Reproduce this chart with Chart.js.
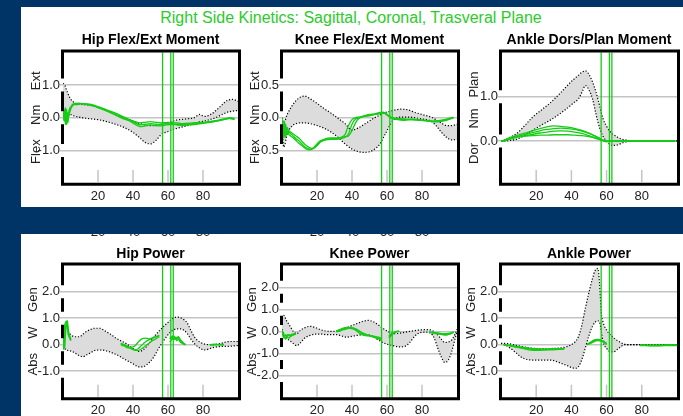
<!DOCTYPE html>
<html>
<head>
<meta charset="utf-8">
<script src="https://cdn.jsdelivr.net/npm/chart.js@4.4.1/dist/chart.umd.min.js"></script>
<style>
  html, body { margin: 0; padding: 0; }
  body { width: 683px; height: 416px; background: #003366; position: relative; overflow: hidden;
         font-family: 'Liberation Sans', Arial, sans-serif; }
  .sheet { position: absolute; left: 21px; width: 662px; background: #fff; }
  #sheetTop { top: 7px; height: 200px; }
  #sheetBottom { top: 234px; height: 182px; overflow: hidden; }
  #mainTitle { position: absolute; left: 101px; width: 500px; top: 8px; line-height: 20px;
               text-align: center; font-size: 16px; color: #2ccb2c; white-space: nowrap; }
  canvas { position: absolute; }
  .ghost { position: absolute; top: -10px; font-size: 13px; line-height: 16px; color: #222;
           transform: translateX(-50%); }
</style>
</head>
<body>
<div class="sheet" id="sheetTop"></div>
<div class="sheet" id="sheetBottom"></div>
<div id="mainTitle">Right Side Kinetics: Sagittal, Coronal, Trasveral Plane</div>
<script>
// ---- gait-cycle axis ----
const xTicks = [20, 40, 60, 80];
const toeOff = [56.9, 61.6, 63.0];

// ---- Hip flexion/extension moment (Nm) ----
const hipMomBandX = [0, 1, 2, 4, 6, 8, 10, 15, 20, 25, 30, 35, 40, 44, 47, 50, 53, 56, 60, 65, 70, 75, 78, 81, 85, 88, 91, 94, 97, 100];
const hipMomUpper = [1.05, 1.0, 0.85, 0.6, 0.48, 0.43, 0.41, 0.38, 0.32, 0.22, 0.1, 0.0, -0.1, -0.18, -0.22, -0.24, -0.24, -0.2, -0.14, -0.07, -0.04, 0.0, 0.1, 0.04, 0.12, 0.25, 0.4, 0.53, 0.56, 0.5];
const hipMomLower = [0.0, 0.0, 0.08, 0.1, 0.06, 0.03, 0.01, -0.03, -0.06, -0.12, -0.2, -0.3, -0.45, -0.62, -0.76, -0.8, -0.7, -0.52, -0.42, -0.33, -0.26, -0.18, -0.13, -0.1, -0.04, 0.02, 0.1, 0.17, 0.2, 0.22];
const hipMomTrialX = [0, 0.7, 1.4, 2, 2.7, 3.4, 4, 5, 6, 8, 10, 14, 18, 22, 26, 30, 34, 38, 41, 44, 47, 50, 53, 56, 59, 62, 65, 68, 72, 76, 80, 84, 88, 92, 95, 98];
const hipMomTrial1 = [0.0, 0.25, -0.2, 0.1, -0.1, 0.2, 0.3, 0.35, 0.4, 0.42, 0.43, 0.42, 0.38, 0.3, 0.22, 0.14, 0.04, -0.06, -0.12, -0.16, -0.14, -0.12, -0.14, -0.16, -0.15, -0.18, -0.2, -0.2, -0.2, -0.18, -0.16, -0.14, -0.1, -0.06, -0.02, -0.04];
const hipMomTrial2 = [0.05, -0.1, 0.3, -0.2, 0.15, 0.05, 0.25, 0.38, 0.42, 0.44, 0.44, 0.41, 0.36, 0.28, 0.2, 0.1, 0.0, -0.08, -0.16, -0.22, -0.2, -0.18, -0.2, -0.2, -0.18, -0.15, -0.16, -0.18, -0.17, -0.15, -0.14, -0.11, -0.08, -0.04, 0.0, -0.02];
const hipMomTrial3 = [-0.05, 0.15, 0.0, 0.25, -0.15, 0.1, 0.2, 0.33, 0.4, 0.4, 0.42, 0.4, 0.35, 0.27, 0.18, 0.08, -0.02, -0.1, -0.2, -0.27, -0.25, -0.22, -0.24, -0.25, -0.22, -0.2, -0.22, -0.24, -0.22, -0.2, -0.17, -0.13, -0.1, -0.05, -0.02, -0.05];

// ---- Knee flexion/extension moment (Nm) ----
const kneeMomBandX = [0, 1, 3, 5, 8, 11, 13, 16, 20, 24, 28, 32, 36, 40, 44, 47, 50, 53, 56, 59, 62, 65, 68, 72, 76, 80, 85, 88, 91, 94, 97, 100];
const kneeMomUpper = [0.0, -0.08, 0.05, 0.15, 0.26, 0.32, 0.33, 0.29, 0.22, 0.14, 0.07, -0.01, -0.09, -0.19, -0.15, -0.1, -0.05, 0.0, 0.04, 0.08, 0.1, 0.12, 0.13, 0.12, 0.08, 0.05, 0.01, -0.03, -0.08, -0.12, -0.12, -0.1];
const kneeMomLower = [-0.14, -0.45, -0.25, -0.15, -0.09, -0.08, -0.08, -0.09, -0.12, -0.16, -0.22, -0.3, -0.4, -0.48, -0.52, -0.53, -0.52, -0.48, -0.4, -0.25, -0.1, -0.01, 0.01, 0.01, 0.0, -0.02, -0.05, -0.12, -0.22, -0.3, -0.34, -0.33];
const kneeMomTrialX = [0, 0.6, 1.2, 2, 3, 4, 6, 8, 10, 12, 14, 16, 18, 20, 22, 25, 28, 31, 34, 36, 38, 40, 42, 44, 47, 50, 53, 56, 58, 60, 62, 66, 70, 74, 78, 82, 86, 90, 94, 98];
const kneeMomTrial1 = [-0.05, -0.25, -0.05, -0.3, -0.15, -0.22, -0.27, -0.32, -0.36, -0.42, -0.46, -0.48, -0.46, -0.4, -0.35, -0.33, -0.32, -0.32, -0.3, -0.26, -0.12, -0.03, 0.0, 0.01, 0.03, 0.05, 0.06, 0.08, 0.08, 0.04, 0.0, -0.02, -0.03, -0.02, -0.03, -0.05, -0.06, -0.05, -0.03, 0.0];
const kneeMomTrial2 = [0.0, -0.15, -0.3, -0.1, -0.25, -0.2, -0.24, -0.28, -0.32, -0.38, -0.43, -0.46, -0.47, -0.43, -0.37, -0.34, -0.33, -0.33, -0.32, -0.3, -0.25, -0.1, -0.02, 0.0, 0.02, 0.04, 0.05, 0.07, 0.08, 0.05, 0.01, -0.01, -0.02, -0.03, -0.04, -0.04, -0.05, -0.04, -0.02, 0.01];
const kneeMomTrial3 = [-0.1, -0.3, -0.15, -0.25, -0.2, -0.26, -0.3, -0.35, -0.4, -0.44, -0.48, -0.49, -0.47, -0.42, -0.36, -0.32, -0.31, -0.31, -0.3, -0.29, -0.28, -0.2, -0.08, -0.01, 0.02, 0.03, 0.05, 0.06, 0.07, 0.05, 0.0, -0.03, -0.04, -0.03, -0.03, -0.04, -0.06, -0.06, -0.04, 0.0];

// ---- Ankle dorsi/plantar moment (Nm) ----
const ankMomBandX = [0, 2, 5, 9, 14, 18, 23, 28, 33, 37, 41, 44, 46, 48, 50, 52, 54, 56, 58, 60, 62, 64, 66, 68, 70, 73, 76, 80, 90, 100];
const ankMomUpper = [0.0, 0.02, 0.08, 0.17, 0.37, 0.54, 0.7, 0.86, 1.05, 1.22, 1.38, 1.48, 1.55, 1.58, 1.5, 1.33, 1.1, 0.8, 0.5, 0.33, 0.21, 0.14, 0.09, 0.05, 0.03, 0.01, 0.0, 0.0, 0.0, 0.0];
const ankMomLower = [0.0, 0.0, 0.01, 0.04, 0.14, 0.24, 0.36, 0.47, 0.6, 0.72, 0.85, 0.95, 1.1, 1.25, 1.15, 0.95, 0.6, 0.3, 0.1, 0.0, -0.08, -0.1, -0.09, -0.06, -0.03, 0.0, 0.0, 0.0, 0.0, 0.0];
const ankMomTrialX = [0, 2, 4, 7, 10, 14, 18, 22, 26, 30, 34, 38, 42, 46, 50, 53, 56, 58, 60, 62, 66, 70, 75, 80, 85, 90, 95, 99];
const ankMomTrial1 = [0.0, 0.0, 0.05, 0.1, 0.14, 0.18, 0.23, 0.28, 0.32, 0.34, 0.33, 0.31, 0.28, 0.24, 0.18, 0.12, 0.06, 0.02, 0.0, 0.0, 0.0, 0.0, 0.0, 0.0, 0.0, 0.0, 0.0, 0.0];
const ankMomTrial2 = [0.0, 0.0, 0.04, 0.08, 0.11, 0.15, 0.19, 0.23, 0.26, 0.28, 0.29, 0.28, 0.26, 0.22, 0.17, 0.12, 0.06, 0.02, -0.01, 0.0, 0.0, 0.0, 0.0, 0.0, 0.0, 0.0, 0.0, 0.0];
const ankMomTrial3 = [0.0, 0.01, 0.03, 0.06, 0.09, 0.12, 0.15, 0.18, 0.2, 0.22, 0.23, 0.22, 0.2, 0.17, 0.12, 0.08, 0.04, 0.01, 0.0, 0.0, 0.0, 0.0, 0.0, 0.0, 0.0, 0.0, 0.0, 0.0];
const ankMomTrial4 = [0.0, 0.02, 0.06, 0.09, 0.1, 0.11, 0.12, 0.13, 0.13, 0.14, 0.14, 0.14, 0.13, 0.12, 0.1, 0.07, 0.03, 0.0, -0.02, 0.0, 0.0, 0.0, 0.0, 0.0, 0.0, 0.0, 0.0, 0.0];

// ---- Hip power (W) ----
const hipPowBandX = [0, 1, 2, 3, 5, 7, 9.5, 11.5, 13.5, 16, 18, 21, 24, 27, 30, 33, 36, 39, 42, 44, 46, 48, 50, 52, 55, 58, 61, 63, 65, 67, 69, 71, 73, 75, 78, 81, 85, 90, 95, 100];
const hipPowUpper = [0.35, 0.74, 0.7, 0.5, 0.35, 0.3, 0.3, 0.4, 0.5, 0.58, 0.62, 0.62, 0.52, 0.4, 0.26, 0.15, 0.05, -0.1, -0.22, -0.25, -0.18, -0.05, 0.12, 0.3, 0.52, 0.72, 0.9, 1.0, 1.04, 1.02, 0.95, 0.82, 0.55, 0.3, 0.11, 0.02, 0.0, 0.05, 0.12, 0.12];
const hipPowLower = [-0.05, -0.15, -0.2, -0.22, -0.25, -0.32, -0.42, -0.45, -0.38, -0.3, -0.22, -0.2, -0.22, -0.28, -0.36, -0.46, -0.58, -0.68, -0.8, -0.84, -0.83, -0.75, -0.62, -0.45, -0.1, 0.2, 0.45, 0.55, 0.6, 0.6, 0.55, 0.42, 0.22, 0.05, -0.12, -0.2, -0.12, -0.07, -0.06, -0.03];
const hipPowTrialX = [0, 0.5, 1, 1.5, 2, 2.5, 3, 3.5, 4, 4.5, 5, 33, 35, 37, 39, 41, 43, 45, 47, 49, 51, 53, 55, 58, 61, 62, 63, 64, 65, 66, 67, 68, 69, 70, 75, 84, 86, 88, 90, 92];
const hipPowTrial1 = [-0.2, 0.35, 0.74, 0.85, 0.89, 0.68, 0.37, 0.3, 0.22, 0.15, null, 0.03, -0.02, -0.08, -0.15, -0.2, -0.15, -0.02, 0.1, 0.18, 0.25, 0.3, 0.33, null, 0.22, 0.3, 0.2, 0.3, 0.15, 0.2, 0.1, 0.06, 0.02, 0.0, null, 0.0, 0.02, 0.0, 0.01, 0.0];
const hipPowTrial2 = [0.05, -0.15, 0.4, 0.7, 0.8, 0.75, 0.5, 0.3, 0.25, 0.18, null, 0.0, -0.05, -0.12, -0.1, -0.05, 0.1, 0.22, 0.25, 0.22, 0.25, 0.3, 0.35, null, 0.1, 0.18, 0.25, 0.2, 0.28, 0.25, 0.15, 0.1, 0.04, 0.01, null, -0.02, 0.0, 0.01, -0.01, 0.0];
const hipPowTrial3 = [0.1, 0.0, -0.1, 0.5, 0.75, 0.9, 0.6, 0.4, 0.3, 0.2, null, 0.05, 0.0, -0.06, -0.13, -0.2, -0.22, -0.15, -0.05, 0.05, 0.15, 0.22, 0.3, null, 0.3, 0.25, 0.35, 0.25, 0.22, 0.3, 0.2, 0.12, 0.05, 0.0, null, 0.01, -0.01, 0.0, 0.0, 0.01];

// ---- Knee power (W) ----
const kneePowBandX = [0, 1, 2.5, 4.5, 6.5, 8.5, 10.5, 13, 16, 19, 22, 25, 28, 31, 34, 37, 40, 43, 46, 49, 52, 55, 58, 61, 64, 67, 70, 73, 76, 79, 82, 85, 87, 89, 91, 93, 95, 97, 99, 100];
const kneePowUpper = [0.6, 0.73, 0.5, 0.25, 0.0, -0.1, 0.05, 0.17, 0.23, 0.18, 0.08, 0.02, 0.0, 0.02, 0.08, 0.17, 0.27, 0.36, 0.45, 0.5, 0.45, 0.3, 0.12, -0.02, -0.1, -0.08, -0.04, 0.0, 0.04, 0.07, 0.08, 0.07, -0.02, -0.15, -0.35, -0.5, -0.48, -0.38, -0.1, 0.1];
const kneePowLower = [0.1, -0.1, -0.3, -0.42, -0.55, -0.64, -0.52, -0.3, -0.18, -0.12, -0.12, -0.14, -0.14, -0.14, -0.2, -0.26, -0.22, -0.18, -0.15, -0.15, -0.23, -0.38, -0.52, -0.6, -0.65, -0.7, -0.68, -0.5, -0.2, -0.05, -0.03, -0.08, -0.3, -0.75, -1.15, -1.4, -1.3, -0.9, -0.3, 0.0];
const kneePowTrialX = [0, 1, 2, 3, 4, 5, 6, 7, 8, 9, 31, 33, 35, 37, 39, 41, 43, 45, 47, 49, 51, 53, 55, 57, 58.5, 61, 62, 63, 64, 65, 66, 67, 75, 84, 86, 88, 90, 92, 94, 96, 98];
const kneePowTrial1 = [0.0, -0.2, -0.3, -0.15, -0.2, -0.15, -0.12, -0.12, -0.1, null, 0.0, 0.05, 0.12, 0.15, 0.14, 0.1, 0.0, -0.12, -0.18, -0.2, -0.22, -0.25, -0.3, -0.38, null, -0.25, -0.2, -0.12, -0.06, -0.02, 0.0, 0.0, null, -0.03, -0.05, -0.08, -0.1, -0.12, -0.14, -0.12, -0.05];
const kneePowTrial2 = [-0.05, -0.3, -0.15, -0.25, -0.3, -0.2, -0.18, -0.15, -0.12, null, 0.02, 0.08, 0.15, 0.18, 0.17, 0.14, 0.05, -0.05, -0.15, -0.18, -0.2, -0.22, -0.26, -0.32, null, -0.3, -0.22, -0.15, -0.08, -0.03, 0.0, 0.0, null, -0.05, -0.06, -0.1, -0.12, -0.15, -0.16, -0.1, -0.02];
const kneePowTrial3 = [0.05, -0.1, -0.35, -0.2, -0.15, -0.22, -0.16, -0.1, -0.08, null, -0.02, 0.02, 0.08, 0.12, 0.16, 0.15, 0.08, -0.02, -0.1, -0.16, -0.22, -0.28, -0.33, -0.4, null, -0.2, -0.15, -0.1, -0.04, 0.0, 0.0, 0.0, null, -0.02, -0.04, -0.06, -0.08, -0.1, -0.1, -0.08, -0.03];

// ---- Ankle power (W) ----
const ankPowBandX = [0, 2, 5, 7, 9, 11, 13, 16, 19, 22, 26, 30, 34, 37, 40, 42, 44, 46, 48, 50, 52, 53.5, 55, 56, 57, 58, 60, 62, 64, 66, 68, 70, 73, 80, 90, 100];
const ankPowUpper = [0.05, 0.05, 0.03, 0.0, -0.03, -0.06, -0.08, -0.12, -0.14, -0.15, -0.15, -0.14, -0.12, -0.08, 0.0, 0.1, 0.3, 0.75, 1.4, 1.98, 2.5, 2.8, 2.88, 2.3, 1.2, 0.85, 0.55, 0.38, 0.26, 0.16, 0.08, 0.02, 0.0, 0.0, 0.0, 0.0];
const ankPowLower = [0.05, 0.0, -0.12, -0.22, -0.33, -0.45, -0.52, -0.57, -0.58, -0.58, -0.58, -0.6, -0.7, -0.77, -0.86, -0.89, -0.83, -0.55, -0.1, 0.35, 0.7, 0.85, 0.9, 0.85, 0.5, 0.1, -0.14, -0.26, -0.27, -0.18, -0.08, 0.0, 0.0, 0.0, 0.0, 0.0];
const ankPowTrialX = [1.5, 5, 9, 13, 17, 21, 25, 29, 33, 36, 42, 49, 51, 53, 55, 57, 59, 60, 70, 79, 85, 90, 95, 100];
const ankPowTrial1 = [0.0, -0.03, -0.08, -0.13, -0.17, -0.18, -0.18, -0.17, -0.15, -0.14, null, 0.0, 0.08, 0.15, 0.18, 0.15, 0.08, 0.02, null, -0.02, -0.03, -0.03, -0.02, -0.02];
const ankPowTrial2 = [0.0, -0.02, -0.06, -0.1, -0.14, -0.16, -0.17, -0.16, -0.15, -0.15, null, 0.02, 0.1, 0.18, 0.2, 0.16, 0.1, 0.04, null, -0.03, -0.04, -0.04, -0.03, -0.03];
const ankPowTrial3 = [0.0, -0.04, -0.1, -0.15, -0.2, -0.21, -0.2, -0.19, -0.18, -0.17, null, 0.0, 0.05, 0.12, 0.15, 0.13, 0.06, 0.0, null, -0.01, -0.02, -0.02, -0.01, -0.01];

// ---- styling ----
const GREEN = '#14cc14';
const BAND = '#dcdcdc';
const EDGE = '#000000';
const GRID = '#c4c4c4';
Chart.defaults.font.family = "'Liberation Sans', Arial, sans-serif";

const TOP_ROW = { y: 24, h: 183, titlePad: { top: 7.6, bottom: 3.9 }, xAxisH: 23.9, xPad: 5.6, yTitlePad: 25.2 };
const BOTTOM_ROW = { y: 236, h: 180, titlePad: { top: 9.6, bottom: 2.8 }, xAxisH: 18.3, xPad: 4.5, yTitlePad: 22.2 };
const COLS = [{ x: 3, w: 239 }, { x: 222, w: 239 }, { x: 441, w: 240 }];

const panels = [
  { title: 'Hip Flex/Ext Moment', yTitle: 'Flex    Nm    Ext', row: TOP_ROW, col: COLS[0],
    yMin: -2, yMax: 2, yTicks: [-1, 0, 1],
    bandX: hipMomBandX, upper: hipMomUpper, lower: hipMomLower,
    trialX: hipMomTrialX, trials: [hipMomTrial1, hipMomTrial2, hipMomTrial3], ghost: true },
  { title: 'Knee Flex/Ext Moment', yTitle: 'Flex    Nm    Ext', row: TOP_ROW, col: COLS[1],
    yMin: -1, yMax: 1, yTicks: [-0.5, 0, 0.5],
    bandX: kneeMomBandX, upper: kneeMomUpper, lower: kneeMomLower,
    trialX: kneeMomTrialX, trials: [kneeMomTrial1, kneeMomTrial2, kneeMomTrial3], ghost: true },
  { title: 'Ankle Dors/Plan Moment', yTitle: 'Dor    Nm   Plan', row: TOP_ROW, col: COLS[2],
    yMin: -0.95, yMax: 2, yTicks: [0, 1],
    bandX: ankMomBandX, upper: ankMomUpper, lower: ankMomLower,
    trialX: ankMomTrialX, trials: [ankMomTrial1, ankMomTrial2, ankMomTrial3, ankMomTrial4] },
  { title: 'Hip Power', yTitle: 'Abs    W    Gen', row: BOTTOM_ROW, col: COLS[0],
    yMin: -2, yMax: 3, yTicks: [-1, 0, 1, 2],
    bandX: hipPowBandX, upper: hipPowUpper, lower: hipPowLower,
    trialX: hipPowTrialX, trials: [hipPowTrial1, hipPowTrial2, hipPowTrial3] },
  { title: 'Knee Power', yTitle: 'Abs    W    Gen', row: BOTTOM_ROW, col: COLS[1],
    yMin: -3, yMax: 3, yTicks: [-2, -1, 0, 1, 2],
    bandX: kneePowBandX, upper: kneePowUpper, lower: kneePowLower,
    trialX: kneePowTrialX, trials: [kneePowTrial1, kneePowTrial2, kneePowTrial3] },
  { title: 'Ankle Power', yTitle: 'Abs    W    Gen', row: BOTTOM_ROW, col: COLS[2],
    yMin: -2, yMax: 3, yTicks: [-1, 0, 1, 2],
    bandX: ankPowBandX, upper: ankPowUpper, lower: ankPowLower,
    trialX: ankPowTrialX, trials: [ankPowTrial1, ankPowTrial2, ankPowTrial3] }
];

// Inward tick marks along the bottom and the heavy black frame (left side broken at labels)
const framePlugin = {
  id: 'frame',
  beforeDatasetsDraw(chart) {
    const { ctx, chartArea: a, scales: { x } } = chart;
    ctx.save();
    ctx.strokeStyle = GRID;
    ctx.lineWidth = 1.5;
    x.ticks.forEach(t => {
      const px = x.getPixelForValue(t.value);
      ctx.beginPath();
      ctx.moveTo(px, a.bottom - 13);
      ctx.lineTo(px, a.bottom - 1);
      ctx.stroke();
    });
    ctx.restore();
  },
  afterDatasetsDraw(chart) {
    const { ctx, chartArea: a, scales: { y } } = chart;
    const L = a.left - 0.5, R = a.right + 1.5, T = a.top - 1.2, B = a.bottom + 1.1;
    ctx.save();
    ctx.strokeStyle = '#000';
    ctx.lineWidth = 3;
    ctx.beginPath();
    ctx.moveTo(L - 1.5, T); ctx.lineTo(R + 1.5, T);
    ctx.moveTo(R, T); ctx.lineTo(R, B);
    ctx.moveTo(R + 1.5, B); ctx.lineTo(L - 1.5, B);
    const marks = y.ticks.map(t => y.getPixelForValue(t.value)).sort((m, n) => m - n);
    let from = T;
    marks.forEach(m => { ctx.moveTo(L, from); ctx.lineTo(L, m - 6.5); from = m + 6.5; });
    ctx.moveTo(L, from); ctx.lineTo(L, B);
    ctx.stroke();
    ctx.restore();
  }
};

const pts = (xs, ys) => xs.map((x, i) => ({ x, y: ys[i] }));

function makePanel(p) {
  const cv = document.createElement('canvas');
  cv.width = p.col.w; cv.height = p.row.h;
  cv.style.left = p.col.x + 'px'; cv.style.top = p.row.y + 'px';
  cv.style.width = p.col.w + 'px'; cv.style.height = p.row.h + 'px';
  document.body.appendChild(cv);

  const datasets = [];
  toeOff.forEach(v => datasets.push({
    data: [{ x: v, y: p.yMin }, { x: v, y: p.yMax }],
    borderColor: GREEN, borderWidth: 1.3, pointRadius: 0, fill: false, tension: 0
  }));
  p.trials.forEach(t => datasets.push({
    data: pts(p.trialX, t), borderColor: GREEN, borderWidth: 1.3,
    pointRadius: 0, fill: false, tension: 0.2, spanGaps: false
  }));
  datasets.push({
    data: pts(p.bandX, p.upper), borderColor: EDGE, borderWidth: 1.2, borderDash: [1.2, 1.8],
    backgroundColor: BAND, fill: '+1', pointRadius: 0, cubicInterpolationMode: 'monotone'
  });
  datasets.push({
    data: pts(p.bandX, p.lower), borderColor: EDGE, borderWidth: 1.2, borderDash: [1.2, 1.8],
    fill: false, pointRadius: 0, cubicInterpolationMode: 'monotone'
  });

  return new Chart(cv, {
    type: 'line',
    data: { datasets },
    options: {
      responsive: false,
      animation: false,
      devicePixelRatio: 1,
      layout: { padding: { left: 0, right: 4, top: 0, bottom: 0 } },
      plugins: {
        legend: { display: false },
        tooltip: { enabled: false },
        filler: { drawTime: 'beforeDatasetsDraw' },
        title: {
          display: true, text: p.title, fullSize: false, color: '#000',
          font: { size: 14, weight: 'bold' }, padding: p.row.titlePad
        }
      },
      scales: {
        x: {
          type: 'linear', min: 0, max: 100,
          afterBuildTicks: s => { s.ticks = xTicks.map(v => ({ value: v })); },
          afterFit: s => { s.height = p.row.xAxisH; },
          grid: { display: false, drawTicks: false },
          border: { display: false },
          ticks: { color: '#222', font: { size: 13 }, padding: p.row.xPad, maxRotation: 0, autoSkip: false }
        },
        y: {
          type: 'linear', min: p.yMin, max: p.yMax,
          afterBuildTicks: s => { s.ticks = p.yTicks.map(v => ({ value: v })); },
          afterFit: s => { s.width = 60; },
          grid: { color: GRID, lineWidth: 1.5, drawTicks: true, tickLength: 3, tickColor: GRID },
          border: { display: false },
          ticks: { color: '#222', font: { size: 13 }, padding: 0, autoSkip: false,
                   callback: v => Number(v).toFixed(1) },
          title: { display: true, text: p.yTitle, color: '#222', font: { size: 13 },
                   padding: { top: p.row.yTitlePad, bottom: 0 } }
        }
      }
    },
    plugins: [framePlugin]
  });
}

const sheetBottom = document.getElementById('sheetBottom');
panels.forEach(p => {
  const chart = makePanel(p);
  if (p.ghost) {
    // tick labels of the upper row, repeated just under the band separating the rows
    xTicks.forEach(v => {
      const s = document.createElement('span');
      s.className = 'ghost';
      s.textContent = String(v);
      s.style.left = (p.col.x + chart.scales.x.getPixelForValue(v) - 21) + 'px';
      sheetBottom.appendChild(s);
    });
  }
});
</script>
</body>
</html>
